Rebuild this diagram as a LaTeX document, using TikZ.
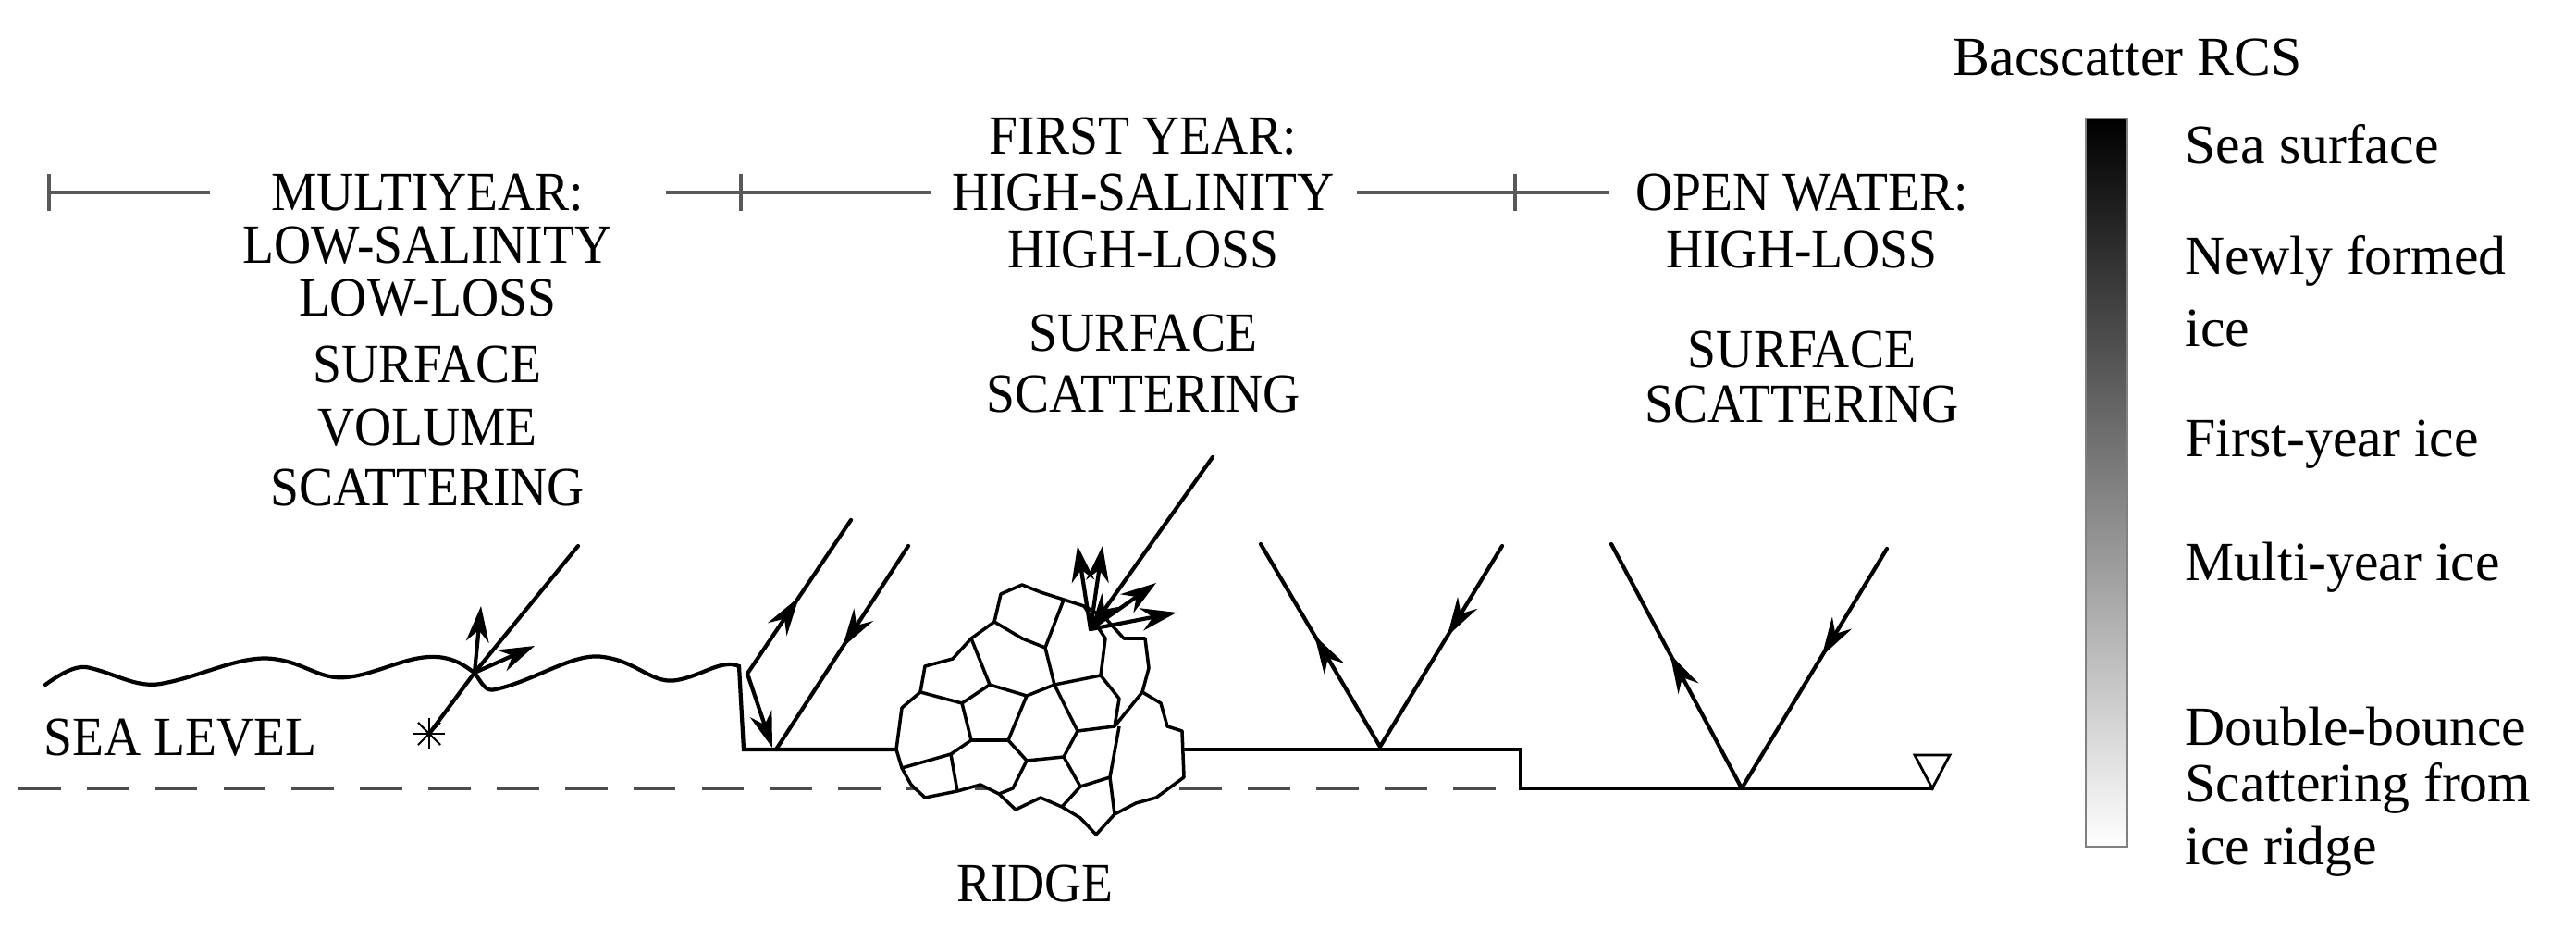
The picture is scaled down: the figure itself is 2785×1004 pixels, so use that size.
\documentclass[tikz,border=0pt]{standalone}
\usepackage{fontspec}
\setmainfont{Liberation Serif}
\newfontfamily\condfont[FakeStretch=0.93]{Liberation Serif}
\usetikzlibrary{arrows.meta,decorations.markings}
\begin{document}
\begin{tikzpicture}[x=0.01cm,y=-0.01cm,
  ln/.style={line width=1.2pt,line cap=round},
  lab/.style={font=\condfont\fontsize{17}{20}\selectfont,inner sep=0pt,align=center},
  leg/.style={font=\fontsize{17}{20}\selectfont,inner sep=0pt,anchor=west},
  midup/.style={postaction={decorate},decoration={markings,mark=at position #1 with {\arrow{Stealth[length=12pt,width=7pt]}}}},
  tip/.style={-{Stealth[length=11pt,width=7pt]}}]
\useasboundingbox (0,0) rectangle (2785,1004);
% top range bar
\coordinate (b0) at (53,208); \coordinate (b1) at (801,208); \coordinate (b2) at (1638,208);
\draw[line width=0.9pt,gray!70!black] (b0) -- (227,208) (720,208) -- (b1) -- (1007,208) (1467,208) -- (b2) -- (1740,208);
\foreach \c in {b0,b1,b2} \draw[line width=0.9pt,gray!70!black] ([yshift=-0.2cm]\c) -- ([yshift=0.2cm]\c);
% labels
\node[lab] (m1) at (462,208) {MULTIYEAR:};
\node[lab] (m2) at (462,265) {LOW-SALINITY};
\node[lab] (m3) at (462,322) {LOW-LOSS};
\node[lab] (m4) at (462,394) {SURFACE};
\node[lab] (m5) at (462,462) {VOLUME};
\node[lab] (m6) at (462,527) {SCATTERING};
\node[lab] (f1) at (1236,147) {FIRST YEAR:};
\node[lab] (f2) at (1236,208) {HIGH-SALINITY};
\node[lab] (f3) at (1236,270) {HIGH-LOSS};
\node[lab] (f4) at (1236,360) {SURFACE};
\node[lab] (f5) at (1236,426) {SCATTERING};
\node[lab] (o1) at (1948,208) {OPEN WATER:};
\node[lab] (o2) at (1948,270) {HIGH-LOSS};
\node[lab] (o3) at (1948,378) {SURFACE};
\node[lab] (o4) at (1948,437) {SCATTERING};
\node[lab] (sl) at (195,797) {SEA LEVEL};
\node[lab] (rg) at (1119,955) {RIDGE};
% sea level dashed
\draw[line width=1.2pt,gray!60!black,dash pattern=on 13pt off 8pt] (20,852) -- (1644,852);
% surfaces
\draw[ln] (49,740) .. controls (70,725) and (85,718) .. (98,722) .. controls (130,730) and (150,745) .. (179,738) .. controls (220,730) and (260,708) .. (295,712) .. controls (330,716) and (345,735) .. (375,732) .. controls (410,728) and (440,708) .. (473,710) .. controls (495,712) and (505,722) .. (513,727) .. controls (522,740) and (525,748) .. (536,745) .. controls (580,735) and (620,705) .. (652,710) .. controls (690,715) and (705,740) .. (732,735) .. controls (760,730) and (780,712) .. (799,720) -- (804,810) -- (969,810);
\draw[ln] (1277,810) -- (1644,810) -- (1644,852) -- (2089,852);
\draw[line width=0.8pt] (2070,816) -- (2108,816) -- (2089,852) -- cycle;
% ridge
\draw[line width=1pt,line join=round,fill=white] (969,810) -- (975,765) -- (995,748) -- (1000,720) -- (1030,712) -- (1050,690) -- (1075,672) -- (1082,642) -- (1105,632) -- (1125,640) -- (1150,648) -- (1172,655) -- (1195,668) -- (1215,690) -- (1238,690) -- (1242,722) -- (1235,748) -- (1255,760) -- (1262,785) -- (1278,790) -- (1280,840) -- (1250,862) -- (1228,868) -- (1205,880) -- (1185,902) -- (1168,884) -- (1148,872) -- (1125,862) -- (1098,875) -- (1080,858) -- (1060,848) -- (1035,855) -- (1000,862) -- (985,848) -- (975,830) -- cycle;
\draw[line width=1pt,line join=round] (995,748) -- (1040,760) -- (1070,740) -- (1050,690)
 (1040,760) -- (1050,800) -- (1028,815) -- (975,830)
 (1070,740) -- (1110,752) -- (1140,740) -- (1130,700) -- (1105,690) -- (1075,672)
 (1050,800) -- (1090,800) -- (1110,752)
 (1090,800) -- (1110,822) -- (1095,852) -- (1080,858)
 (1110,822) -- (1150,818) -- (1165,790) -- (1140,740)
 (1165,790) -- (1205,785) -- (1210,755) -- (1190,730) -- (1140,740)
 (1205,785) -- (1235,748)
 (1150,818) -- (1168,850) -- (1148,872)
 (1168,850) -- (1200,840) -- (1205,880)
 (1200,840) -- (1210,785)
 (1130,700) -- (1150,648)
 (1190,730) -- (1195,690) -- (1172,655)
 (1028,815) -- (1035,855);
% multiyear arrows
\coordinate (ms) at (625,590); \coordinate (mh) at (513,727); \coordinate (mx) at (464,793);
\draw[ln] (ms) -- (mh) -- (mx);
\draw[ln,tip] (mh) -- (520,655);
\draw[ln,tip] (mh) -- (578,698);
\foreach \a in {0,45,...,315} \draw[line width=0.6pt] (mx) -- ++(\a:0.17cm);
% step double bounce
\coordinate (s1) at (920,562); \coordinate (s2) at (808,728); \coordinate (s3) at (835,808);
\coordinate (s4) at (982,590); \coordinate (s5) at (839,810);
\draw[ln,midup=0.5] (s2) -- (s1);
\draw[ln,tip] (s2) -- (s3);
\draw[ln,midup=0.5] (s4) -- (s5);
% ridge arrows
\coordinate (r0) at (1311,494); \coordinate (rh) at (1179,680);
\draw[ln,tip] (r0) -- (rh);
\draw[ln,tip] (rh) -- (1165,590);
\draw[ln,tip] (rh) -- (1192,590);
\draw[ln,tip] (rh) -- (1250,630);
\draw[ln,tip] (rh) -- (1272,662);
% V reflections
\coordinate (v1a) at (1363,588); \coordinate (v1b) at (1492,807); \coordinate (v1c) at (1624,590);
\draw[ln,midup=0.55] (v1b) -- (v1a);
\draw[ln,midup=0.45] (v1c) -- (v1b);
\coordinate (v2a) at (1742,588); \coordinate (v2b) at (1883,852); \coordinate (v2c) at (2040,593);
\draw[ln,midup=0.55] (v2b) -- (v2a);
\draw[ln,midup=0.45] (v2c) -- (v2b);
% legend
\node[leg,anchor=center] (lt) at (2300,62) {Bacscatter RCS};
\shade[top color=black,bottom color=white] (2255,128) rectangle (2300,915);
\draw[line width=0.5pt,gray] (2255,128) rectangle (2300,915);
\node[leg] (l1) at (2362,156) {Sea surface};
\node[leg] (l2) at (2362,282) {Newly formed};
\node[leg] (l3) at (2362,355) {ice};
\node[leg] (l4) at (2362,480) {First-year ice};
\node[leg] (l5) at (2362,613) {Multi-year ice};
\node[leg] (l6) at (2362,785) {Double-bounce};
\node[leg] (l7) at (2362,852) {Scattering from};
\node[leg] (l8) at (2362,920) {ice ridge};
\end{tikzpicture}
\end{document}
